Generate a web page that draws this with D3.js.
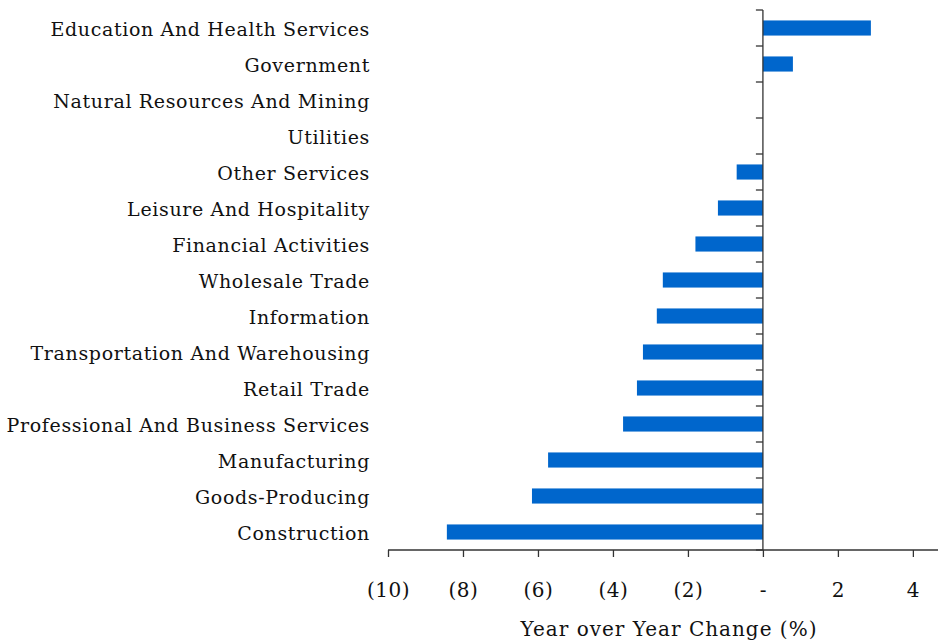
<!DOCTYPE html>
<html><head><meta charset="utf-8">
<script src="https://cdn.jsdelivr.net/npm/d3@7"></script>
<style>body{margin:0;background:#fff}</style>
</head><body>
<svg id="c" width="939" height="641"></svg>
<script>
const categories = ["Education And Health Services","Government","Natural Resources And Mining","Utilities","Other Services","Leisure And Hospitality","Financial Activities","Wholesale Trade","Information","Transportation And Warehousing","Retail Trade","Professional And Business Services","Manufacturing","Goods-Producing","Construction"];
const values = [2.88, 0.8, 0, 0, -0.7, -1.2, -1.8, -2.67, -2.83, -3.2, -3.36, -3.73, -5.73, -6.16, -8.43];
const xTicks = [-10,-8,-6,-4,-2,0,2,4];
const xTickLabels = ["(10)","(8)","(6)","(4)","(2)","-","2","4"];
const xTitle = "Year over Year Change (%)";

const font = "DejaVu Serif";
const svg = d3.select("#c");
const x = d3.scaleLinear().domain([-10, 4.67]).range([388, 938]);
const y = d3.scaleBand().domain(categories).range([10, 550]).paddingInner(0.58).paddingOuter(0.29);

svg.append("g").selectAll("rect").data(values).join("rect")
  .attr("x", d => x(Math.min(0,d)))
  .attr("width", d => Math.abs(x(d)-x(0)))
  .attr("y", (d,i) => y(categories[i]))
  .attr("height", y.bandwidth())
  .attr("fill", "#0066cc");

// y axis line with boundary ticks
const band = 540/categories.length;
const yb = d3.range(categories.length+1).map(i => 10 + i*band);
const ax = svg.append("g").attr("stroke","#333").attr("stroke-width",1.3);
ax.append("line").attr("x1",x(0)).attr("x2",x(0)).attr("y1",10).attr("y2",550);
ax.selectAll("line.t").data(yb).join("line").attr("class","t")
  .attr("x1",x(0)-7).attr("x2",x(0)).attr("y1",d=>d).attr("y2",d=>d);

// category labels
svg.append("g").selectAll("text").data(categories).join("text")
  .attr("x", 370).attr("y", d => y(d)+y.bandwidth()/2).attr("dy","0.4em")
  .attr("text-anchor","end").attr("font-family",font).attr("font-size",19)
  .attr("letter-spacing","0.65px").attr("fill","#111")
  .text(d=>d);

// x axis
const xa = svg.append("g").attr("transform","translate(0,550)")
  .call(d3.axisBottom(x).tickValues(xTicks).tickSize(7).tickFormat((d,i)=>xTickLabels[i]));
xa.selectAll("path,line").attr("stroke","#333").attr("stroke-width",1.3);
xa.select("path").attr("d","M388,0H938");
xa.selectAll("text").attr("y",47).attr("dy",0).attr("font-family",font).attr("font-size",20)
  .attr("letter-spacing","0.5px").attr("fill","#111");

svg.append("text").attr("x",669).attr("y",636).attr("text-anchor","middle")
  .attr("font-family",font).attr("font-size",20).attr("letter-spacing","1px").attr("fill","#111").text(xTitle);
</script>
</body></html>
